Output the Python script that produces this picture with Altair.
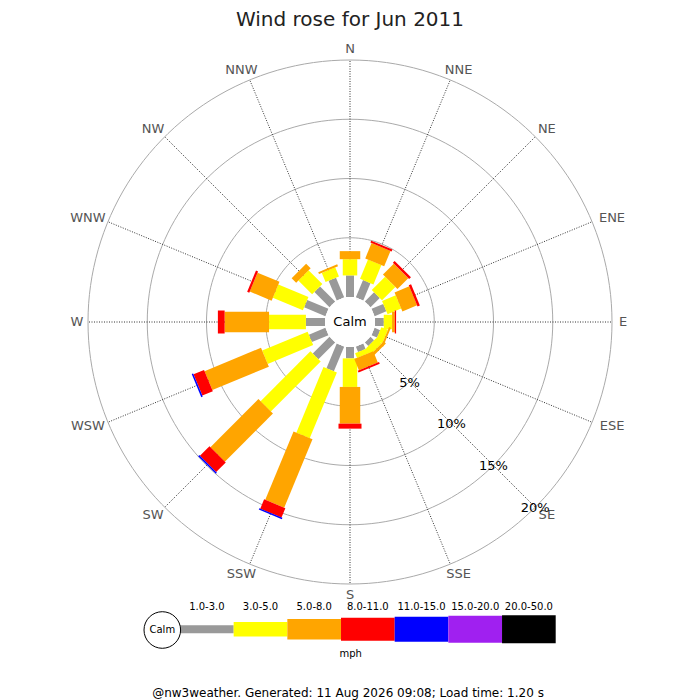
import altair as alt
import pandas as pd

# ---------------- data ----------------
directions = ["N", "NNE", "NE", "ENE", "E", "ESE", "SE", "SSE",
              "S", "SSW", "SW", "WSW", "W", "WNW", "NW", "NNW"]
dir_angles = [0, 22.5, 45, 67.5, 90, 112.5, 135, 157.5,
              180, 202.5, 225, 247.5, 270, 292.5, 315, 337.5]
classes = ["1.0-3.0", "3.0-5.0", "5.0-8.0", "8.0-11.0",
           "11.0-15.0", "15.0-20.0", "20.0-50.0"]

# % of the month per direction, for each speed class (mph)
pct_1_3 = [1.82, 1.58, 1.10, 1.07, 0.74, 0.50, 0.42, 0.50,
           0.96, 2.26, 2.00, 1.51, 1.61, 1.94, 1.80, 1.80]
pct_3_5 = [1.37, 1.76, 1.59, 1.25, 0.70, 0.60, 0.64, 0.42,
           2.41, 5.99, 5.95, 4.15, 3.11, 2.75, 1.65, 0.83]
pct_5_8 = [0.68, 1.40, 1.29, 1.34, 0.23, 0.17, 0.25, 1.02,
           3.10, 6.24, 5.74, 5.16, 3.75, 2.00, 0.54, 0.17]
pct_8_11 = [0.00, 0.17, 0.21, 0.21, 0.11, 0.00, 0.00, 0.17,
            0.42, 0.85, 1.14, 0.96, 0.57, 0.19, 0.00, 0.00]
pct_11_15 = [0.00, 0.00, 0.00, 0.00, 0.00, 0.00, 0.00, 0.00,
             0.00, 0.12, 0.13, 0.13, 0.00, 0.00, 0.00, 0.00]
pct_15_20 = [0.00, 0.00, 0.00, 0.00, 0.00, 0.00, 0.00, 0.00,
             0.00, 0.00, 0.00, 0.00, 0.00, 0.00, 0.00, 0.00]
pct_20_50 = [0.00, 0.00, 0.00, 0.00, 0.00, 0.00, 0.00, 0.00,
             0.00, 0.00, 0.00, 0.00, 0.00, 0.00, 0.00, 0.00]
series = [pct_1_3, pct_3_5, pct_5_8, pct_8_11, pct_11_15, pct_15_20, pct_20_50]

ring_values = [5, 10, 15, 20]
ring_labels = ["5%", "10%", "15%", "20%"]

title_text = "Wind rose for Jun 2011"
footer_text = "@nw3weather. Generated: 11 Aug 2026 09:08; Load time: 1.20 s"

# ---------------- styling / layout ----------------
class_colors = ["#999999", "#ffff00", "#ffa500", "#ff0000",
                "#0000ff", "#a020f0", "#000000"]
class_widths = [8, 14.5, 20.5, 23, 25, 27, 28]
FONT = "DejaVu Sans"
W, H = 684, 692
CX, CY = 342, 314          # rose centre in chart pixels
PX = 11.85                 # pixels per percent
R0 = 25 / PX               # calm circle radius in percent units
LABEL_R = 268              # direction label distance (px)

xs = alt.Scale(domain=[-CX / PX, (W - CX) / PX], nice=False, zero=False)
ys = alt.Scale(domain=[-(H - CY) / PX, CY / PX], nice=False, zero=False)
X = alt.X("x:Q", scale=xs, axis=None)
Y = alt.Y("y:Q", scale=ys, axis=None)

color_enc = alt.Color("cls:N", scale=alt.Scale(domain=classes, range=class_colors), legend=None)
width_enc = alt.StrokeWidth("cls:N", scale=alt.Scale(type="ordinal", domain=classes, range=class_widths),
                            legend=None)

# ---------------- tables ----------------
rows = []
for i, d in enumerate(directions):
    cum = 0.0
    for k, c in enumerate(classes):
        v = series[k][i]
        if v > 0:
            rows.append(dict(dir=d, ang=dir_angles[i], cls=c, k=k, lo=cum, hi=cum + v))
            cum += v
bars_df = pd.DataFrame(rows)

ring_steps = list(range(0, 361, 2))
ring_df = pd.DataFrame([dict(ring=v, a=a) for v in ring_values for a in ring_steps])
dir_df = pd.DataFrame(dict(label=directions, ang=dir_angles))
ringlab_df = pd.DataFrame(dict(v=ring_values, label=ring_labels))
leg_df = pd.DataFrame(dict(cls=classes, k=list(range(len(classes)))))
one = pd.DataFrame(dict(x=[0], y=[0]))

RAD = "*PI/180"

rings = alt.Chart(ring_df).transform_calculate(
    x=f"({R0}+datum.ring)*sin(datum.a{RAD})",
    y=f"({R0}+datum.ring)*cos(datum.a{RAD})",
).mark_line(color="#aaaaaa", strokeWidth=1).encode(x=X, y=Y, detail="ring:N", order="a:Q")

spokes = alt.Chart(dir_df).transform_calculate(
    x=f"{R0}*sin(datum.ang{RAD})",
    y=f"{R0}*cos(datum.ang{RAD})",
    x2=f"({R0}+{max(ring_values)})*sin(datum.ang{RAD})",
    y2=f"({R0}+{max(ring_values)})*cos(datum.ang{RAD})",
).mark_rule(color="#333333", strokeWidth=1, strokeDash=[1, 1.5]).encode(
    x=X, y=Y, x2="x2:Q", y2="y2:Q")

bars = alt.Chart(bars_df).transform_calculate(
    x=f"({R0}+datum.lo)*sin(datum.ang{RAD})",
    y=f"({R0}+datum.lo)*cos(datum.ang{RAD})",
    x2=f"({R0}+datum.hi)*sin(datum.ang{RAD})",
    y2=f"({R0}+datum.hi)*cos(datum.ang{RAD})",
).mark_rule(strokeCap="butt").encode(
    x=X, y=Y, x2="x2:Q", y2="y2:Q", color=color_enc, strokeWidth=width_enc,
    order="k:Q")

calm_disk = alt.Chart(one).mark_point(
    shape="circle", filled=True, fill="white", opacity=1, size=(2 * 25) ** 2, strokeWidth=0
).encode(x=X, y=Y)
calm_text = alt.Chart(one).mark_text(text="Calm", font=FONT, fontSize=13, color="black").encode(x=X, y=Y)

dir_labels = alt.Chart(dir_df).transform_calculate(
    x=f"({LABEL_R}+5.2*length(datum.label))*sin(datum.ang{RAD})/{PX}",
    y=f"({LABEL_R}+5)*cos(datum.ang{RAD})/{PX}",
).mark_text(font=FONT, fontSize=13, color="#555555").encode(x=X, y=Y, text="label:N")

pct_labels = alt.Chart(ringlab_df).transform_calculate(
    x=f"({R0}+datum.v)*sin(135{RAD})",
    y=f"({R0}+datum.v)*cos(135{RAD})",
).mark_text(font=FONT, fontSize=13, color="black", dy=1).encode(x=X, y=Y, text="label:N")

rose = alt.layer(rings, spokes, bars, calm_disk, calm_text, dir_labels, pct_labels)

# ---------------- legend & texts ----------------
lx = alt.Scale(domain=[0, len(classes)], range=[172, 547.7], nice=False, zero=False)
leg_bars = alt.Chart(leg_df).transform_calculate(k2="datum.k+1").mark_rule(strokeCap="butt").encode(
    x=alt.X("k:Q", scale=lx, axis=None), x2="k2:Q", y=alt.value(621.2),
    color=color_enc, strokeWidth=width_enc)
leg_text = alt.Chart(leg_df).transform_calculate(kc="datum.k+0.5").mark_text(
    font=FONT, fontSize=10, color="black").encode(
    x=alt.X("kc:Q", scale=lx, axis=None), y=alt.value(599), text="cls:N")
leg_calm = alt.Chart(one).mark_point(
    shape="circle", filled=True, fill="white", stroke="black", strokeWidth=1, opacity=1,
    size=36.6 ** 2).encode(x=alt.value(154.3), y=alt.value(622))
leg_calm_text = alt.Chart(one).mark_text(text="Calm", font=FONT, fontSize=10, color="black").encode(
    x=alt.value(154.3), y=alt.value(622))
mph = alt.Chart(one).mark_text(text="mph", font=FONT, fontSize=10, color="black").encode(
    x=alt.value(342.7), y=alt.value(646))
title = alt.Chart(one).mark_text(text=title_text, font=FONT, fontSize=20, color="#222222").encode(
    x=alt.value(342), y=alt.value(12))
footer = alt.Chart(one).mark_text(text=footer_text, font=FONT, fontSize=12, color="black").encode(
    x=alt.value(340), y=alt.value(684.5))

legend = alt.layer(leg_bars, leg_text, leg_calm, leg_calm_text, mph, title, footer)

chart = alt.layer(rose, legend).resolve_scale(x="independent", y="independent").properties(
    width=W, height=H, autosize="none", padding=0, background="white"
).configure_view(stroke=None)

chart.save("out.html", embed_options={"renderer": "svg", "actions": False})
